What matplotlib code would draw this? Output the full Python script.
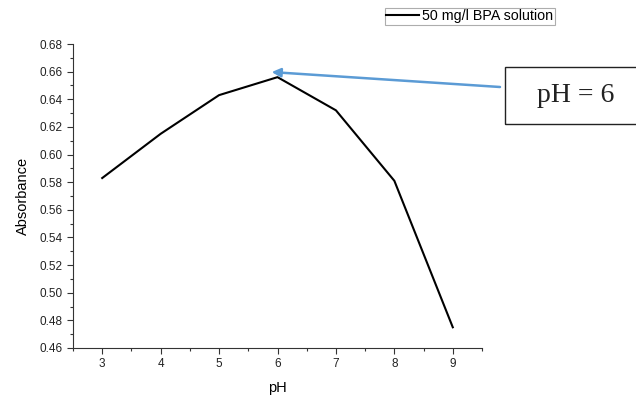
import matplotlib
matplotlib.use("Agg")
import matplotlib.pyplot as plt
from matplotlib.ticker import MultipleLocator, FormatStrFormatter
from matplotlib.patches import Rectangle

ph = [3, 4, 5, 6, 7, 8, 9]
absorbance = [0.583, 0.615, 0.643, 0.656, 0.632, 0.581, 0.475]
series_label = "50 mg/l BPA solution"
note = "pH = 6"

plt.rcParams['font.family'] = ['Liberation Sans', 'DejaVu Sans']

fig = plt.figure(figsize=(6.36, 3.97), dpi=100)
ax = fig.add_axes([73/636, 1-348/397, (482-73)/636, (348-44)/397])
ax.plot(ph, absorbance, color='black', lw=1.5, label=series_label)
ax.set_xlim(2.5, 9.5)
ax.set_ylim(0.46, 0.68)
ax.xaxis.set_major_locator(MultipleLocator(1))
ax.xaxis.set_minor_locator(MultipleLocator(0.5))
ax.yaxis.set_major_locator(MultipleLocator(0.02))
ax.yaxis.set_minor_locator(MultipleLocator(0.01))
ax.yaxis.set_major_formatter(FormatStrFormatter('%.2f'))
for s in ['top', 'right']:
    ax.spines[s].set_visible(False)
for s in ['left', 'bottom']:
    ax.spines[s].set_linewidth(0.8)
    ax.spines[s].set_color('#333333')
ax.tick_params(which='major', direction='out', length=4, width=0.8, labelsize=8.5, colors='#333333')
ax.tick_params(which='minor', direction='out', length=2.5, width=0.8, colors='#333333')
ax.tick_params(labelcolor='#222222')
ax.set_xlabel('pH', fontsize=10.5, labelpad=7.5)
ax.set_ylabel('Absorbance', fontsize=10.5, labelpad=7)

leg = fig.legend(loc='upper left', bbox_to_anchor=(385/636, 1-8/397), fontsize=10.3,
                 frameon=True, fancybox=False, borderpad=0.1, handlelength=2.3,
                 handletextpad=0.2, borderaxespad=0)
leg.get_frame().set_edgecolor('#999999')
leg.get_frame().set_linewidth(0.8)

# annotation arrow
ax.annotate('', xy=(5.9, 0.6597), xycoords='data',
            xytext=(500/636, 1-87/397), textcoords='figure fraction',
            arrowprops=dict(arrowstyle='-|>', color='#5b9bd5', lw=1.8,
                            mutation_scale=13, shrinkA=0, shrinkB=0))

fig.patches.append(Rectangle((505/636, 1-124/397), 140/636, 57/397,
                             transform=fig.transFigure, fill=False,
                             edgecolor='#222222', lw=1.0))
fig.text(576/636, 1-95/397, note, family='Liberation Serif', fontsize=20,
         ha='center', va='center', color='#222222')

fig.savefig('out.png', dpi=100)
